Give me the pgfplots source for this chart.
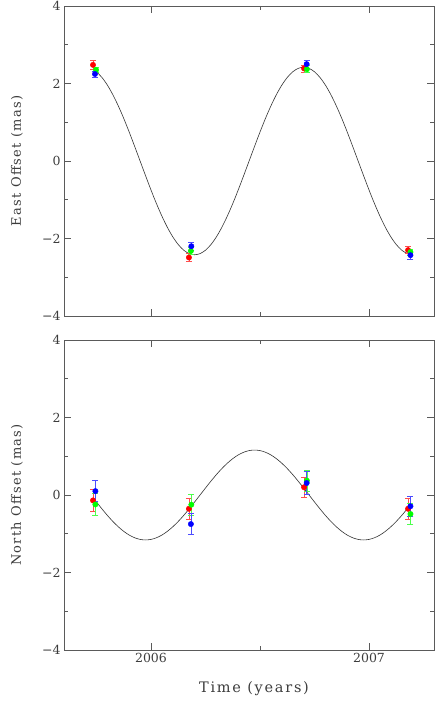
\documentclass[border=0pt]{standalone}
\usepackage{fontspec}
\setmainfont{DejaVu Serif}
\newfontfamily\ylabfont[LetterSpace=10]{DejaVu Serif}
\newfontfamily\xlabfont[LetterSpace=12]{DejaVu Serif}
\usepackage{pgfplots}
\pgfplotsset{compat=1.18}

\definecolor{axgray}{HTML}{5A5A5A}
\definecolor{txtgray}{HTML}{3C3C3C}

\pgfplotsset{
  panel/.style={
    width=370pt, height=310pt, scale only axis,
    xmin=2005.601, xmax=2007.298, ymin=-4, ymax=4,
    xtick={2006,2007}, minor xtick={2006.5},
    ytick={-4,-2,0,2,4}, minor ytick={-3,-1,1,3},
    yticklabels={−4,−2,0,2,4},
    tick align=inside, major tick length=7pt, minor tick length=4pt,
    axis line style={axgray, line width=0.7pt},
    every tick/.style={axgray, line width=0.7pt},
    tick label style={font=\fontsize{12.5}{14}\selectfont, text=txtgray},
    every axis y label/.style={at={(axis description cs:0,0.5)}, xshift=-47pt,
      rotate=90, anchor=center, font=\ylabfont\fontsize{13}{16}\selectfont, text=txtgray},
    every axis x label/.style={at={(axis description cs:0.5,0)}, yshift=-39pt,
      xshift=5pt, anchor=center, font=\xlabfont\fontsize{14.5}{17}\selectfont, text=txtgray},
    clip=false,
  },
  pts/.style={only marks, mark=*, mark size=2.7pt, color=#1,
    error bars/.cd, y dir=both, y explicit,
    error bar style={line width=0.5pt, color=#1!70},
    error mark options={rotate=90, mark size=3pt, line width=0.5pt, color=#1!70}},
  fit/.style={no marks, smooth, black!80, line width=0.6pt},
}

\begin{document}
\begin{tikzpicture}
\useasboundingbox (-64pt,-385pt) rectangle (372pt,316pt);

% East offset
\begin{axis}[panel, name=top, at={(0pt,0pt)}, anchor=south west,
  xticklabels={}, ylabel={East Offset (mas)}]
\addplot[fit] coordinates {
(2005.745,2.324) (2005.750,2.302) (2005.775,2.156) (2005.800,1.958) (2005.825,1.711)
(2005.850,1.422) (2005.875,1.099) (2005.900,0.748) (2005.925,0.378) (2005.950,0)
(2005.975,-0.378) (2006.000,-0.748) (2006.025,-1.099) (2006.050,-1.422) (2006.075,-1.711)
(2006.100,-1.958) (2006.125,-2.156) (2006.150,-2.302) (2006.175,-2.390) (2006.200,-2.420)
(2006.225,-2.390) (2006.250,-2.302) (2006.275,-2.156) (2006.300,-1.958) (2006.325,-1.711)
(2006.350,-1.422) (2006.375,-1.099) (2006.400,-0.748) (2006.425,-0.378) (2006.450,0)
(2006.475,0.378) (2006.500,0.748) (2006.525,1.099) (2006.550,1.422) (2006.575,1.711)
(2006.600,1.958) (2006.625,2.156) (2006.650,2.302) (2006.675,2.390) (2006.700,2.420)
(2006.725,2.390) (2006.750,2.302) (2006.775,2.156) (2006.800,1.958) (2006.825,1.711)
(2006.850,1.422) (2006.875,1.099) (2006.900,0.748) (2006.925,0.378) (2006.950,0)
(2006.975,-0.378) (2007.000,-0.748) (2007.025,-1.099) (2007.050,-1.422) (2007.075,-1.711)
(2007.100,-1.958) (2007.125,-2.156) (2007.150,-2.302) (2007.175,-2.390) (2007.185,-2.409)
};
\addplot[pts=red] coordinates {
(2005.734,2.48) +- (0,0.12) (2006.174,-2.49) +- (0,0.10)
(2006.702,2.39) +- (0,0.09) (2007.179,-2.30) +- (0,0.09)};
\addplot[pts=green] coordinates {
(2005.748,2.35) +- (0,0.07) (2006.183,-2.32) +- (0,0.09)
(2006.715,2.37) +- (0,0.09) (2007.190,-2.35) +- (0,0.08)};
\addplot[pts=blue] coordinates {
(2005.743,2.245) +- (0,0.08) (2006.185,-2.20) +- (0,0.11)
(2006.714,2.50) +- (0,0.10) (2007.190,-2.43) +- (0,0.10)};
\end{axis}

% North offset
\begin{axis}[panel, name=bot, at={(0pt,-24pt)}, anchor=north west,
  xticklabels={2006,2007}, ylabel={North Offset (mas)}, xlabel={Time (years)}]
\addplot[fit] coordinates {
(2005.745,-0.145) (2005.750,-0.181) (2005.775,-0.358) (2005.800,-0.527) (2005.825,-0.682)
(2005.850,-0.820) (2005.875,-0.938) (2005.900,-1.034) (2005.925,-1.103) (2005.950,-1.146)
(2005.975,-1.160) (2006.000,-1.146) (2006.025,-1.103) (2006.050,-1.034) (2006.075,-0.938)
(2006.100,-0.820) (2006.125,-0.682) (2006.150,-0.527) (2006.175,-0.358) (2006.200,-0.181)
(2006.225,0) (2006.250,0.181) (2006.275,0.358) (2006.300,0.527) (2006.325,0.682)
(2006.350,0.820) (2006.375,0.938) (2006.400,1.034) (2006.425,1.103) (2006.450,1.146)
(2006.475,1.160) (2006.500,1.146) (2006.525,1.103) (2006.550,1.034) (2006.575,0.938)
(2006.600,0.820) (2006.625,0.682) (2006.650,0.527) (2006.675,0.358) (2006.700,0.181)
(2006.725,0) (2006.750,-0.181) (2006.775,-0.358) (2006.800,-0.527) (2006.825,-0.682)
(2006.850,-0.820) (2006.875,-0.938) (2006.900,-1.034) (2006.925,-1.103) (2006.950,-1.146)
(2006.975,-1.160) (2007.000,-1.146) (2007.025,-1.103) (2007.050,-1.034) (2007.075,-0.938)
(2007.100,-0.820) (2007.125,-0.682) (2007.150,-0.527) (2007.175,-0.358) (2007.185,-0.289)
};
\addplot[pts=red] coordinates {
(2005.734,-0.14) +- (0,0.28) (2006.174,-0.355) +- (0,0.27)
(2006.702,0.20) +- (0,0.27) (2007.179,-0.355) +- (0,0.27)};
\addplot[pts=green] coordinates {
(2005.745,-0.245) +- (0,0.29) (2006.185,-0.25) +- (0,0.27)
(2006.715,0.37) +- (0,0.27) (2007.190,-0.49) +- (0,0.27)};
\addplot[pts=blue] coordinates {
(2005.745,0.10) +- (0,0.27) (2006.183,-0.75) +- (0,0.27)
(2006.714,0.31) +- (0,0.30) (2007.190,-0.29) +- (0,0.27)};
\end{axis}
\end{tikzpicture}
\end{document}
